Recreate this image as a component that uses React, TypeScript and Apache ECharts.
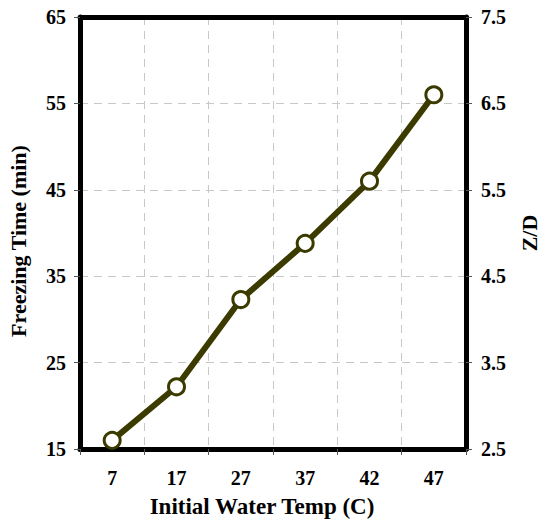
import React, { useEffect, useRef } from "react";
import * as echarts from "echarts";

const temps = ["7", "17", "27", "37", "42", "47"];
const freezingMinutes = [16.0, 22.2, 32.3, 38.8, 46.0, 56.0];

const leftRange = { min: 15, max: 65, step: 10 };
const rightRange = { min: 2.5, max: 7.5, step: 1 };

const FONT = "'Liberation Serif', 'Times New Roman', serif";
const LINE_COLOR = "#3b3b00";
const FRAME = { show: true, lineStyle: { color: "#000", width: 5 } };

export default function App() {
  const ref = useRef<HTMLDivElement>(null);

  useEffect(() => {
    if (!ref.current) return;
    const chart = echarts.init(ref.current, null, { renderer: "svg" });
    const labelStyle = {
      fontFamily: FONT,
      fontWeight: "bold" as const,
      fontSize: 20,
      color: "#000",
    };
    const nameStyle = {
      fontFamily: FONT,
      fontWeight: "bold" as const,
      fontSize: 22,
      color: "#000",
    };
    const split = {
      show: true,
      lineStyle: { color: "#c8c8c8", type: [8, 6] as number[], width: 1 },
    };
    const tick = {
      show: true,
      length: 6,
      lineStyle: { color: "#555", width: 1 },
    };
    chart.setOption({
      animation: false,
      backgroundColor: "#fff",
      grid: {
        left: 80,
        right: 79,
        top: 17,
        bottom: 76,
        outerBoundsMode: "none",
        containLabel: false,
      },
      xAxis: [
        {
          type: "category",
          data: temps,
          boundaryGap: true,
          name: "Initial Water Temp (C)",
          nameLocation: "middle",
          nameGap: 46,
          nameTextStyle: { ...nameStyle, fontSize: 23, padding: [0, 22, 0, 0] },
          axisLine: FRAME,
          axisTick: tick,
          axisLabel: { ...labelStyle, margin: 19 },
          splitLine: split,
          z: 3,
        },
        {
          type: "category",
          data: temps,
          position: "top",
          boundaryGap: true,
          axisLine: FRAME,
          axisTick: { show: false },
          axisLabel: { show: false },
          splitLine: { show: false },
          z: 3,
        },
      ],
      yAxis: [
        {
          type: "value",
          min: leftRange.min,
          max: leftRange.max,
          interval: leftRange.step,
          name: "Freezing Time (min)",
          nameLocation: "middle",
          nameGap: 51,
          nameRotate: 90,
          nameTextStyle: { ...nameStyle, padding: [0, 16, 0, 0] },
          axisLine: FRAME,
          axisTick: tick,
          axisLabel: { ...labelStyle, margin: 14 },
          splitLine: split,
          z: 3,
        },
        {
          type: "value",
          position: "right",
          min: rightRange.min,
          max: rightRange.max,
          interval: rightRange.step,
          name: "Z/D",
          nameLocation: "middle",
          nameGap: 52,
          nameRotate: 90,
          nameTextStyle: nameStyle,
          axisLine: FRAME,
          axisTick: tick,
          axisLabel: {
            ...labelStyle,
            margin: 15,
            formatter: (v: number) => v.toFixed(1),
          },
          splitLine: { show: false },
          z: 3,
        },
      ],
      series: [
        {
          type: "line",
          data: freezingMinutes,
          xAxisIndex: 0,
          yAxisIndex: 0,
          symbol: "circle",
          symbolSize: 16,
          showAllSymbol: true,
          lineStyle: { color: LINE_COLOR, width: 6 },
          itemStyle: { color: "#fff", borderColor: LINE_COLOR, borderWidth: 3 },
          z: 5,
        },
      ],
    });
    return () => chart.dispose();
  }, []);

  return (
    <div
      ref={ref}
      style={{ position: "fixed", left: 0, top: 0, width: 545, height: 525 }}
    />
  );
}
